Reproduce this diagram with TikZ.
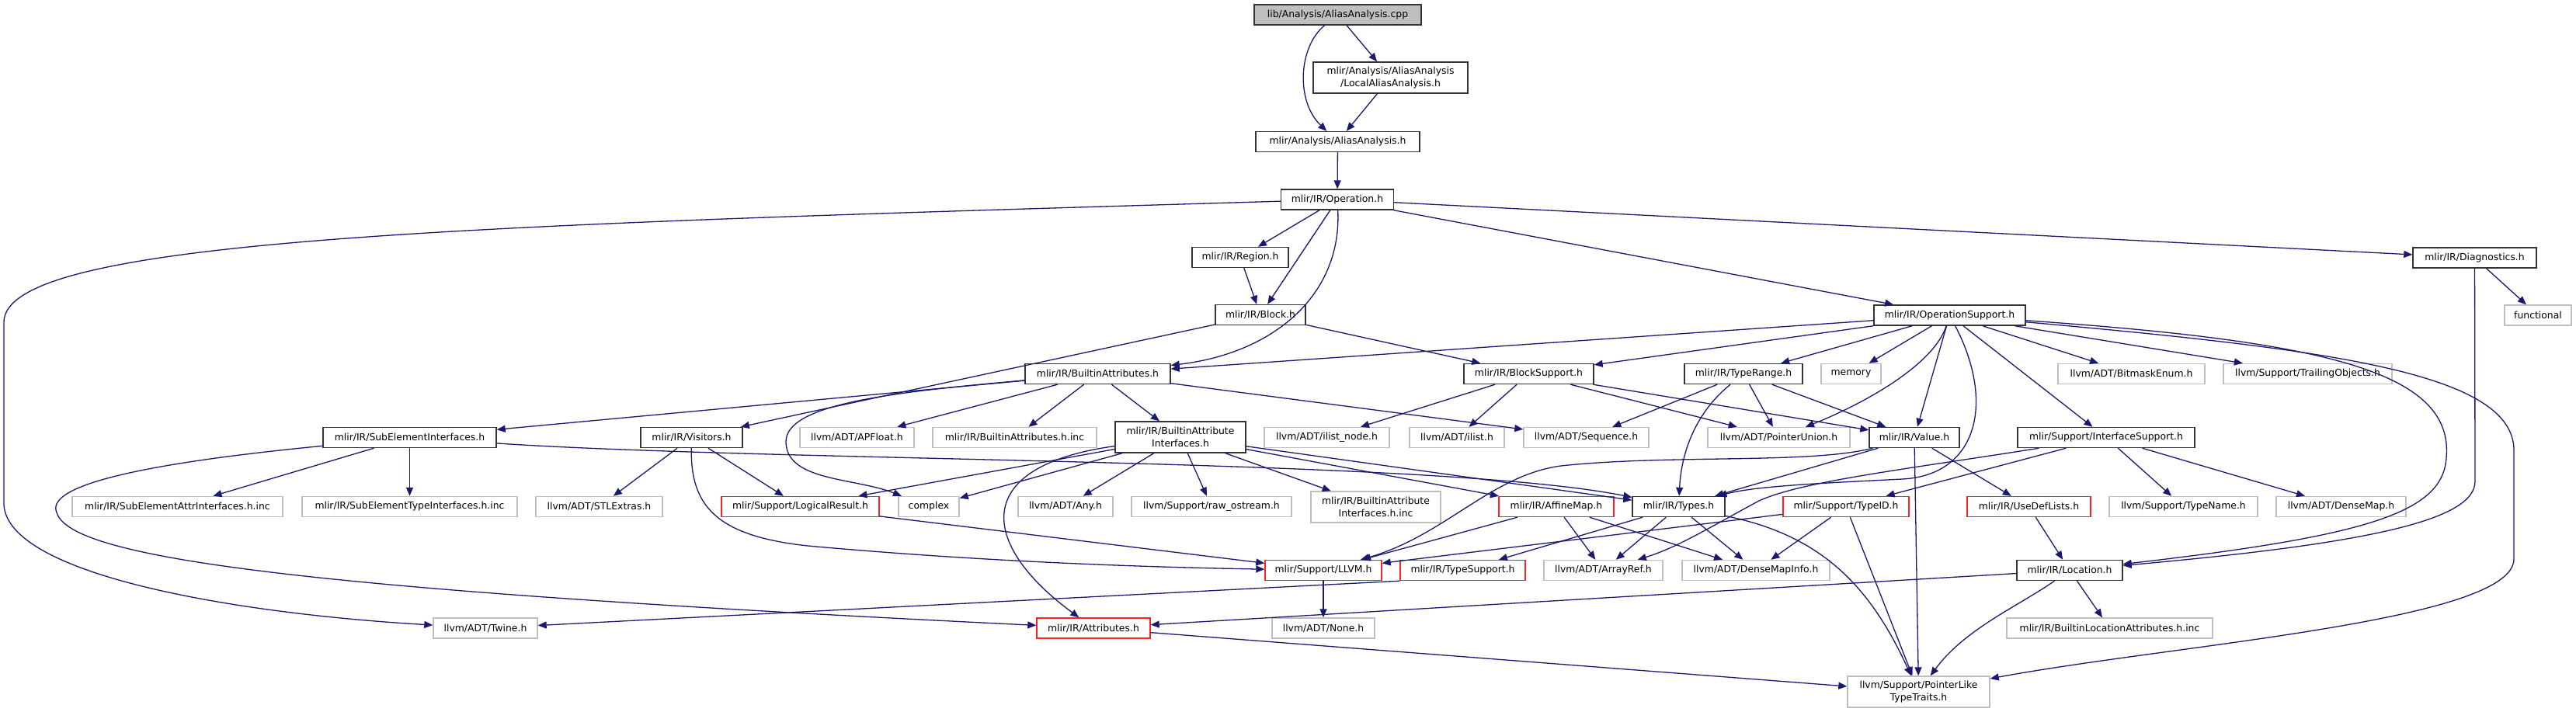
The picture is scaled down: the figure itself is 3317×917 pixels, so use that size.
\documentclass[tikz,border=0pt]{standalone}
\usepackage{fontspec}
\setmainfont{DejaVu Sans}
\usepackage{xcolor}
\usetikzlibrary{arrows.meta}

\definecolor{edgeblue}{HTML}{191970}
\definecolor{leafgray}{HTML}{BFBFBF}
\definecolor{truncred}{HTML}{FF2020}

\tikzset{
  hdr/.style={rectangle, draw=black!80, line width=1.4pt, fill=white, inner sep=0pt,
    minimum height=26, align=center, font=\fontsize{12.4}{15.5}\selectfont},
  leaf/.style={hdr, draw=leafgray},
  trunc/.style={hdr, draw=truncred},
  twoline/.style={minimum height=40},
  incl/.style={edgeblue, line width=1.3pt, -{Triangle[length=11pt,width=9pt]}},
}

\begin{document}
\begin{tikzpicture}[x=1pt,y=-1pt]
	\useasboundingbox (0,0) rectangle (3317,917);
	
	% top of the graph
	\node[hdr, fill=leafgray, minimum width=215] (cpp) at (1722.5,19) {lib/Analysis/AliasAnalysis.cpp};
	\node[hdr, twoline, minimum width=199] (local) at (1790.5,100) {mlir/Analysis/AliasAnalysis\\/LocalAliasAnalysis.h};
	\node[hdr, minimum width=211] (aa) at (1722.5,182.5) {mlir/Analysis/AliasAnalysis.h};
	\node[hdr, minimum width=145] (op) at (1722,257) {mlir/IR/Operation.h};
	\node[hdr, minimum width=124] (region) at (1597,331.5) {mlir/IR/Region.h};
	\node[hdr, minimum width=116] (block) at (1623,405.5) {mlir/IR/Block.h};
	\node[hdr, minimum width=159] (diag) at (3186.5,332) {mlir/IR/Diagnostics.h};
	\node[leaf, minimum width=86] (functional) at (3268,406) {functional};
	\node[hdr, minimum width=195] (opsupport) at (2510.5,406) {mlir/IR/OperationSupport.h};
	
	% row 2
	\node[hdr, minimum width=187] (battr) at (1413.5,481.5) {mlir/IR/BuiltinAttributes.h};
	\node[hdr, minimum width=167] (blocksupport) at (1968.5,481.5) {mlir/IR/BlockSupport.h};
	\node[hdr, minimum width=152] (typerange) at (2245,481.5) {mlir/IR/TypeRange.h};
	\node[leaf, minimum width=77] (memory) at (2383.5,481.5) {memory};
	\node[leaf, minimum width=189] (bitmask) at (2744.5,481.5) {llvm/ADT/BitmaskEnum.h};
	\node[leaf, minimum width=217] (trailing) at (2971.5,481.5) {llvm/Support/TrailingObjects.h};
	
	% row 3
	\node[hdr, minimum width=223] (subelem) at (527.5,563.5) {mlir/IR/SubElementInterfaces.h};
	\node[hdr, minimum width=131] (visitors) at (890.5,563.5) {mlir/IR/Visitors.h};
	\node[leaf, minimum width=147] (apfloat) at (1103.5,563.5) {llvm/ADT/APFloat.h};
	\node[leaf, minimum width=211] (battrinc) at (1306.5,563.5) {mlir/IR/BuiltinAttributes.h.inc};
	\node[hdr, twoline, minimum width=168] (bai) at (1520,563) {mlir/IR/BuiltinAttribute\\Interfaces.h};
	\node[leaf, minimum width=161] (ilistnode) at (1708.5,563.5) {llvm/ADT/ilist\_node.h};
	\node[leaf, minimum width=122] (ilist) at (1876,563.5) {llvm/ADT/ilist.h};
	\node[leaf, minimum width=161] (sequence) at (2042.5,563.5) {llvm/ADT/Sequence.h};
	\node[leaf, minimum width=183] (punion) at (2290.5,563.5) {llvm/ADT/PointerUnion.h};
	\node[hdr, minimum width=116] (value) at (2465,563.5) {mlir/IR/Value.h};
	\node[hdr, minimum width=228] (ifsupport) at (2712,563.5) {mlir/Support/InterfaceSupport.h};
	
	% row 4
	\node[leaf, minimum width=271] (seattr) at (228.5,652.5) {mlir/IR/SubElementAttrInterfaces.h.inc};
	\node[leaf, minimum width=277] (setype) at (527.5,652.5) {mlir/IR/SubElementTypeInterfaces.h.inc};
	\node[leaf, minimum width=163] (stlextras) at (771.5,652.5) {llvm/ADT/STLExtras.h};
	\node[trunc, minimum width=203] (logical) at (1030.5,652.5) {mlir/Support/LogicalResult.h};
	\node[leaf, minimum width=78] (complex) at (1196,652.5) {complex};
	\node[leaf, minimum width=122] (any) at (1372,652.5) {llvm/ADT/Any.h};
	\node[leaf, minimum width=206] (rawos) at (1560,652.5) {llvm/Support/raw\_ostream.h};
	\node[leaf, twoline, minimum width=167] (baiinc) at (1771.5,653) {mlir/IR/BuiltinAttribute\\Interfaces.h.inc};
	\node[trunc, minimum width=148] (affine) at (2004,652.5) {mlir/IR/AffineMap.h};
	\node[hdr, minimum width=119] (types) at (2161.5,652.5) {mlir/IR/Types.h};
	\node[trunc, minimum width=162] (typeid) at (2377,652.5) {mlir/Support/TypeID.h};
	\node[trunc, minimum width=159] (usedef) at (2612.5,652.5) {mlir/IR/UseDefLists.h};
	\node[leaf, minimum width=191] (typename) at (2811.5,652.5) {llvm/Support/TypeName.h};
	\node[leaf, minimum width=167] (densemap) at (3014.5,652.5) {llvm/ADT/DenseMap.h};
	
	% row 5
	\node[trunc, minimum width=150] (llvmh) at (1704,734.5) {mlir/Support/LLVM.h};
	\node[trunc, minimum width=161] (typesupport) at (1883.5,734.5) {mlir/IR/TypeSupport.h};
	\node[leaf, minimum width=153] (arrayref) at (2064.5,734.5) {llvm/ADT/ArrayRef.h};
	\node[leaf, minimum width=190] (dmi) at (2261,734.5) {llvm/ADT/DenseMapInfo.h};
	\node[hdr, minimum width=136] (location) at (2665,734.5) {mlir/IR/Location.h};
	
	% bottom
	\node[leaf, minimum width=134] (twine) at (625,809) {llvm/ADT/Twine.h};
	\node[trunc, minimum width=146] (attributes) at (1408,809) {mlir/IR/Attributes.h};
	\node[leaf, minimum width=132] (none) at (1704,809) {llvm/ADT/None.h};
	\node[leaf, minimum width=265] (bla) at (2716.5,809) {mlir/IR/BuiltinLocationAttributes.h.inc};
	\node[leaf, twoline, minimum width=183] (plt) at (2470.5,891) {llvm/Support/PointerLike\\TypeTraits.h};
	
	% includes
	\draw[incl] (cpp) .. controls (1672,60) and (1668,130) .. (aa);
	\draw[incl] (cpp) -- (local);
	\draw[incl] (local) -- (aa);
	\draw[incl] (aa) -- (op);
	
	\draw[incl] (op) -- (region);
	\draw[incl] (op) -- (block);
	\draw[incl] (op) .. controls (1728,380) and (1640,455) .. (battr);
	\draw[incl] (op) -- (opsupport);
	\draw[incl] (op) -- (diag);
	\draw[incl] (op) .. controls (620,290) and (5,305) .. (5,415) -- (5,650) .. controls (10,740) and (300,790) .. (twine);
	
	\draw[incl] (region) -- (block);
	\draw[incl] (block) -- (visitors);
	\draw[incl] (block) -- (blocksupport);
	
	\draw[incl] (diag) -- (functional);
	\draw[incl] (diag) -- (3187,620) .. controls (3187,670) and (3050,700) .. (location);
	
	\draw[incl] (opsupport) -- (battr);
	\draw[incl] (opsupport) -- (blocksupport);
	\draw[incl] (opsupport) -- (typerange);
	\draw[incl] (opsupport) -- (memory);
	\draw[incl] (opsupport) .. controls (2490,470) and (2400,520) .. (punion);
	\draw[incl] (opsupport) -- (value);
	\draw[incl] (opsupport) .. controls (2570,520) and (2545,612) .. (2450,617) .. controls (2350,622) and (2260,626) .. (types);
	\draw[incl] (opsupport) -- (ifsupport);
	\draw[incl] (opsupport) -- (bitmask);
	\draw[incl] (opsupport) -- (trailing);
	\draw[incl] (opsupport) .. controls (3000,440) and (3160,480) .. (3150,590) .. controls (3145,660) and (3050,690) .. (location);
	\draw[incl] (opsupport) .. controls (3000,450) and (3237,480) .. (3237,580) -- (3237,720) .. controls (3237,800) and (2800,830) .. (plt);
	
	\draw[incl] (battr) -- (subelem);
	\draw[incl] (battr) .. controls (1150,505) and (1010,520) .. (1012,570) .. controls (1014,620) and (1100,615) .. (complex);
	\draw[incl] (battr) -- (apfloat);
	\draw[incl] (battr) -- (battrinc);
	\draw[incl] (battr) -- (bai);
	\draw[incl] (battr) -- (sequence);
	
	\draw[incl] (subelem) -- (seattr);
	\draw[incl] (subelem) -- (setype);
	\draw[incl] (subelem) .. controls (1000,595) and (1850,590) .. (types);
	\draw[incl] (subelem) .. controls (150,600) and (60,630) .. (73,660) .. controls (90,720) and (400,760) .. (attributes);
	
	\draw[incl] (visitors) -- (stlextras);
	\draw[incl] (visitors) -- (logical);
	\draw[incl] (visitors) .. controls (889,650) and (920,690) .. (1040,703) .. controls (1250,722) and (1450,730) .. (llvmh);
	
	\draw[incl] (bai) -- (logical);
	\draw[incl] (bai) -- (complex);
	\draw[incl] (bai) -- (any);
	\draw[incl] (bai) -- (rawos);
	\draw[incl] (bai) -- (baiinc);
	\draw[incl] (bai) -- (affine);
	\draw[incl] (bai) -- (types);
	\draw[incl] (bai) .. controls (1250,600) and (1260,700) .. (attributes);
	
	\draw[incl] (blocksupport) -- (ilistnode);
	\draw[incl] (blocksupport) -- (ilist);
	\draw[incl] (blocksupport) -- (punion);
	\draw[incl] (blocksupport) -- (value);
	
	\draw[incl] (typerange) -- (sequence);
	\draw[incl] (typerange) .. controls (2185,530) and (2165,580) .. (types);
	\draw[incl] (typerange) -- (punion);
	\draw[incl] (typerange) -- (value);
	
	\draw[incl] (value) -- (types);
	\draw[incl] (value) .. controls (2330,598) and (2150,585) .. (2010,600) .. controls (1920,612) and (1860,690) .. (llvmh);
	\draw[incl] (value) -- (usedef);
	\draw[incl] (value) -- (plt);
	
	\draw[incl] (ifsupport) -- (typeid);
	\draw[incl] (ifsupport) .. controls (2450,605) and (2320,620) .. (2265,645) .. controls (2200,680) and (2160,705) .. (arrayref);
	\draw[incl] (ifsupport) -- (typename);
	\draw[incl] (ifsupport) -- (densemap);
	
	\draw[incl] (affine) -- (llvmh);
	\draw[incl] (affine) -- (arrayref);
	\draw[incl] (affine) -- (dmi);
	
	\draw[incl] (types) -- (typesupport);
	\draw[incl] (types) -- (arrayref);
	\draw[incl] (types) -- (dmi);
	\draw[incl] (types) .. controls (2350,690) and (2410,760) .. (plt);
	
	\draw[incl] (typeid) -- (llvmh);
	\draw[incl] (typeid) -- (dmi);
	\draw[incl] (typeid) -- (plt);
	
	\draw[incl] (usedef) -- (location);
	\draw[incl] (location) -- (attributes);
	\draw[incl] (location) .. controls (2600,780) and (2530,810) .. (plt);
	\draw[incl] (location) -- (bla);
	
	\draw[incl] (logical) -- (llvmh);
	\draw[incl] (llvmh) -- (none);
	\draw[incl] (typesupport.south west) -- (twine);
	\draw[incl] (attributes) -- (plt);
	
\end{tikzpicture}
\end{document}
